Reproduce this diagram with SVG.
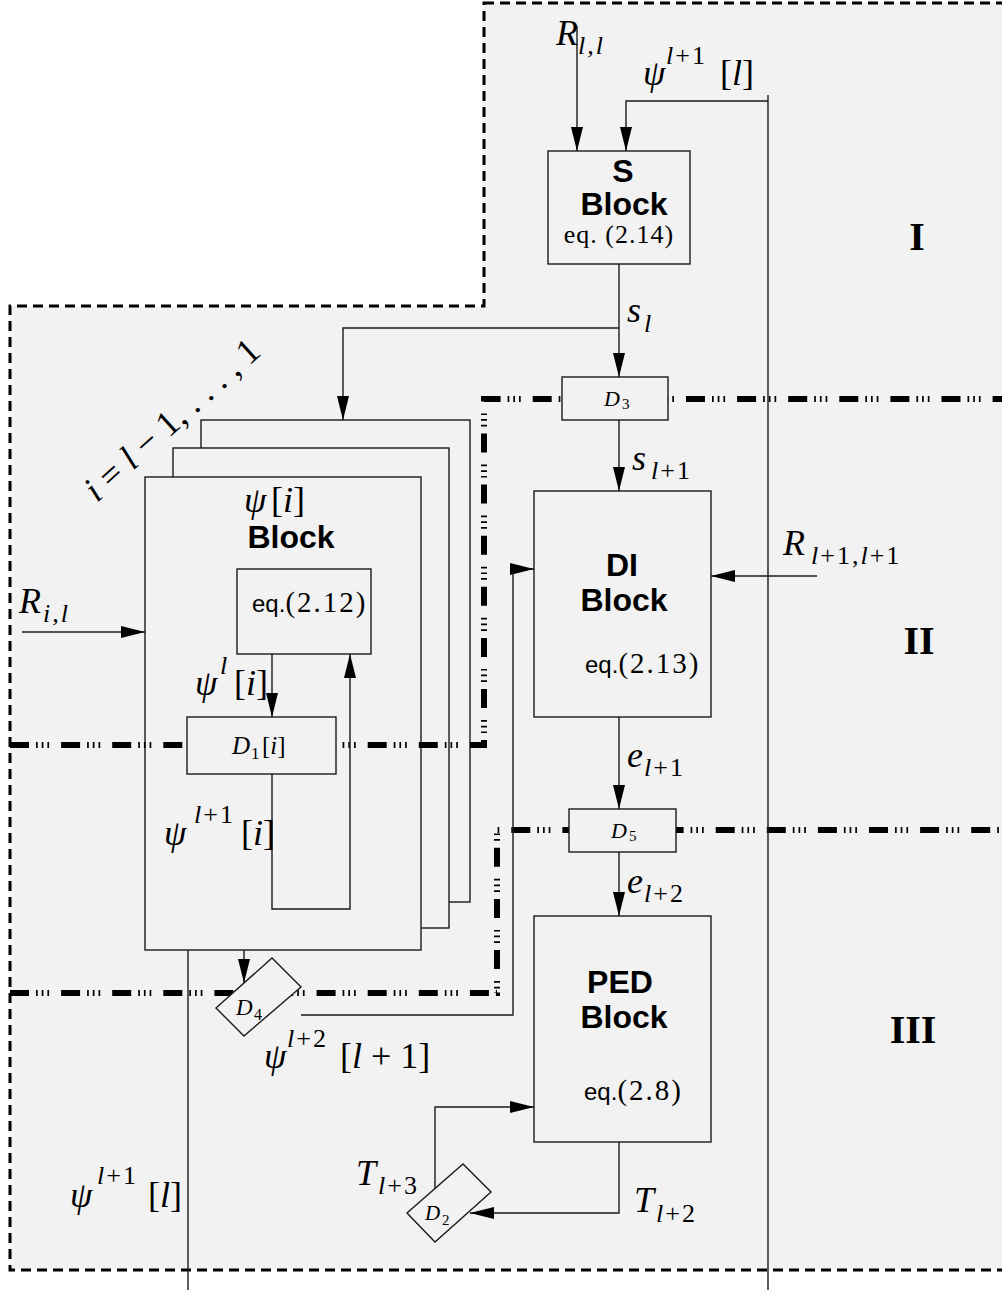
<svg xmlns="http://www.w3.org/2000/svg" width="1002" height="1290" viewBox="0 0 1002 1290">
<style>
.ln{fill:none;stroke:#1a1a1a;stroke-width:1.4}
.box{fill:#f2f2f2;stroke:#1a1a1a;stroke-width:1.4}
.dd{fill:none;stroke:#000;stroke-width:6;stroke-dasharray:19 7 1.7 4 1.7 4 1.7 12}
.mi{font-family:"Liberation Serif",serif;font-style:italic;font-size:36px;fill:#000}
.up{font-style:normal}
.sc{font-size:26px;letter-spacing:2px}
.bs{font-family:"Liberation Sans",Arial,sans-serif;font-weight:bold;font-size:32px;text-anchor:middle;fill:#000}
.eqs{font-family:"Liberation Sans",Arial,sans-serif;font-size:24px;fill:#000}
.eqr{font-family:"Liberation Serif",serif;font-size:29px;letter-spacing:2px}
.rn{font-family:"Liberation Serif",serif;font-weight:bold;font-size:40px;text-anchor:middle;fill:#000}
.dl{font-family:"Liberation Serif",serif;font-style:italic;fill:#000}
</style>
<defs>
<marker id="ah" markerUnits="userSpaceOnUse" markerWidth="24" markerHeight="12" refX="24" refY="6" orient="auto">
<path d="M0,0 L24,6 L0,12 Z" fill="#000"/>
</marker>
</defs>

<g id="background">
<path d="M484,3 H1008 V1270 H10 V306 H484 Z" fill="#f2f2f2" stroke="#000" stroke-width="3" stroke-dasharray="10 6"/>
</g>

<g id="stack">
<rect x="201" y="420" width="269" height="482" class="box"/>
<rect x="173" y="448" width="276" height="480" class="box"/>
<rect x="145" y="477" width="276" height="473" class="box"/>
<text x="244" y="512" class="mi">ψ<tspan class="up" x="271">[</tspan><tspan>i</tspan><tspan class="up">]</tspan></text>
<text x="291" y="548" class="bs">Block</text>
</g>

<g id="boundaries">
<path d="M10,745 H484 V399 H1002" class="dd"/>
<path d="M10,993 H497 V830 H1002" class="dd"/>
</g>

<g id="connectors">
<path d="M577,26 V151" class="ln" marker-end="url(#ah)"/>
<path d="M768,95 V1290" class="ln"/>
<path d="M768,101 H626 V151" class="ln" marker-end="url(#ah)"/>
<path d="M619,264 V377" class="ln" marker-end="url(#ah)"/>
<path d="M619,328 H343 V420" class="ln" marker-end="url(#ah)"/>
<path d="M619,420 V491" class="ln" marker-end="url(#ah)"/>
<path d="M817,576 H711" class="ln" marker-end="url(#ah)"/>
<path d="M619,717 V809" class="ln" marker-end="url(#ah)"/>
<path d="M619,852 V916" class="ln" marker-end="url(#ah)"/>
<path d="M619,1142 V1213 H470" class="ln" marker-end="url(#ah)"/>
<path d="M435,1189 V1107 H534" class="ln" marker-end="url(#ah)"/>
<path d="M22,632 H145" class="ln" marker-end="url(#ah)"/>
<path d="M272,654 V717" class="ln" marker-end="url(#ah)"/>
<path d="M272,774 V909 H350 V654" class="ln" marker-end="url(#ah)"/>
<path d="M244,950 V983" class="ln" marker-end="url(#ah)"/>
<path d="M301,1015 H513 V569 H534" class="ln" marker-end="url(#ah)"/>
<path d="M188,950 V1290" class="ln"/>
</g>

<g id="s-block">
<rect x="548" y="151" width="142" height="113" class="box"/>
<text x="623" y="182" class="bs" font-size="28">S</text>
<text x="624" y="215" class="bs" font-size="29">Block</text>
<text x="619" y="243" font-family="Liberation Serif, serif" font-size="26" text-anchor="middle" letter-spacing="1">eq. (2.14)</text>
</g>

<g id="eq212">
<rect x="237" y="569" width="134" height="85" class="box"/>
<text x="252" y="612" class="eqs">eq.<tspan class="eqr">(2.12)</tspan></text>
</g>

<g id="d1">
<rect x="187" y="717" width="149" height="57" class="box"/>
<text x="232" y="754" class="dl" font-size="25">D<tspan class="up" font-size="17" x="251" y="759">1</tspan><tspan class="up" x="262" y="754">[</tspan><tspan>i</tspan><tspan class="up">]</tspan></text>
</g>

<g id="d3">
<rect x="562" y="377" width="106" height="43" class="box"/>
<text x="604" y="406" class="dl" font-size="22">D<tspan class="up" font-size="15" x="622" y="409">3</tspan></text>
</g>

<g id="di-block">
<rect x="534" y="491" width="177" height="226" class="box"/>
<text x="622" y="576" class="bs">DI</text>
<text x="624" y="611" class="bs">Block</text>
<text x="585" y="673" class="eqs">eq.<tspan class="eqr">(2.13)</tspan></text>
</g>

<g id="d5">
<rect x="569" y="809" width="107" height="43" class="box"/>
<text x="611" y="838" class="dl" font-size="22">D<tspan class="up" font-size="15" x="629" y="841">5</tspan></text>
</g>

<g id="ped-block">
<rect x="534" y="916" width="177" height="226" class="box"/>
<text x="620" y="993" class="bs">PED</text>
<text x="624" y="1028" class="bs">Block</text>
<text x="584" y="1100" class="eqs">eq.<tspan class="eqr">(2.8)</tspan></text>
</g>

<g id="d4">
<polygon points="216,1008 272,958 301,987 244,1036" class="box"/>
<text x="236" y="1015" class="dl" font-size="23">D<tspan class="up" font-size="16" x="254" y="1020">4</tspan></text>
</g>

<g id="d2">
<polygon points="407,1213 463,1164 491,1192 435,1242" class="box"/>
<text x="425" y="1220" class="dl" font-size="21">D<tspan class="up" font-size="15" x="442" y="1225">2</tspan></text>
</g>

<g id="labels">
<text x="556" y="45" class="mi">R<tspan class="sc" x="578" y="54" letter-spacing="4">l,l</tspan></text>
<text x="643" y="85" class="mi">ψ<tspan class="sc" x="666" y="64">l</tspan><tspan class="sc up">+1</tspan><tspan class="up" x="720" y="85">[</tspan><tspan>l</tspan><tspan class="up">]</tspan></text>
<text x="627" y="322" class="mi">s<tspan class="sc" x="644" y="332">l</tspan></text>
<text x="632" y="470" class="mi">s<tspan class="sc" x="651" y="479">l</tspan><tspan class="sc up">+1</tspan></text>
<text x="627" y="767" class="mi">e<tspan class="sc" x="644" y="776">l</tspan><tspan class="sc up">+1</tspan></text>
<text x="627" y="893" class="mi">e<tspan class="sc" x="644" y="902">l</tspan><tspan class="sc up">+2</tspan></text>
<text x="783" y="555" class="mi">R<tspan class="sc" x="811" y="564">l</tspan><tspan class="sc up">+1,</tspan><tspan class="sc">l</tspan><tspan class="sc up">+1</tspan></text>
<text x="19" y="613" class="mi">R<tspan class="sc" x="43" y="622" letter-spacing="3">i,l</tspan></text>
<text x="195" y="695" class="mi">ψ<tspan class="sc" x="220" y="674">l</tspan><tspan class="up" x="234" y="695">[</tspan><tspan>i</tspan><tspan class="up">]</tspan></text>
<text x="164" y="845" class="mi">ψ<tspan class="sc" x="194" y="823">l</tspan><tspan class="sc up">+1</tspan><tspan class="up" x="241" y="845">[</tspan><tspan>i</tspan><tspan class="up">]</tspan></text>
<text x="264" y="1068" class="mi">ψ<tspan class="sc" x="287" y="1047">l</tspan><tspan class="sc up">+2</tspan><tspan class="up" x="340" y="1068">[</tspan><tspan>l</tspan><tspan class="up"> + 1]</tspan></text>
<text x="70" y="1207" class="mi">ψ<tspan class="sc" x="97" y="1184">l</tspan><tspan class="sc up">+1</tspan><tspan class="up" x="148" y="1207">[</tspan><tspan>l</tspan><tspan class="up">]</tspan></text>
<text x="356" y="1185" class="mi">T<tspan class="sc" x="378" y="1194">l</tspan><tspan class="sc up">+3</tspan></text>
<text x="634" y="1212" class="mi">T<tspan class="sc" x="656" y="1222">l</tspan><tspan class="sc up">+2</tspan></text>
<text transform="translate(97,503) rotate(-42)" class="mi" font-size="30">i<tspan class="up"> = </tspan><tspan>l</tspan><tspan class="up"> − 1, . . . , 1</tspan></text>
<text x="917" y="250" class="rn">I</text>
<text x="919" y="654" class="rn">II</text>
<text x="913" y="1043" class="rn">III</text>
</g>
</svg>
